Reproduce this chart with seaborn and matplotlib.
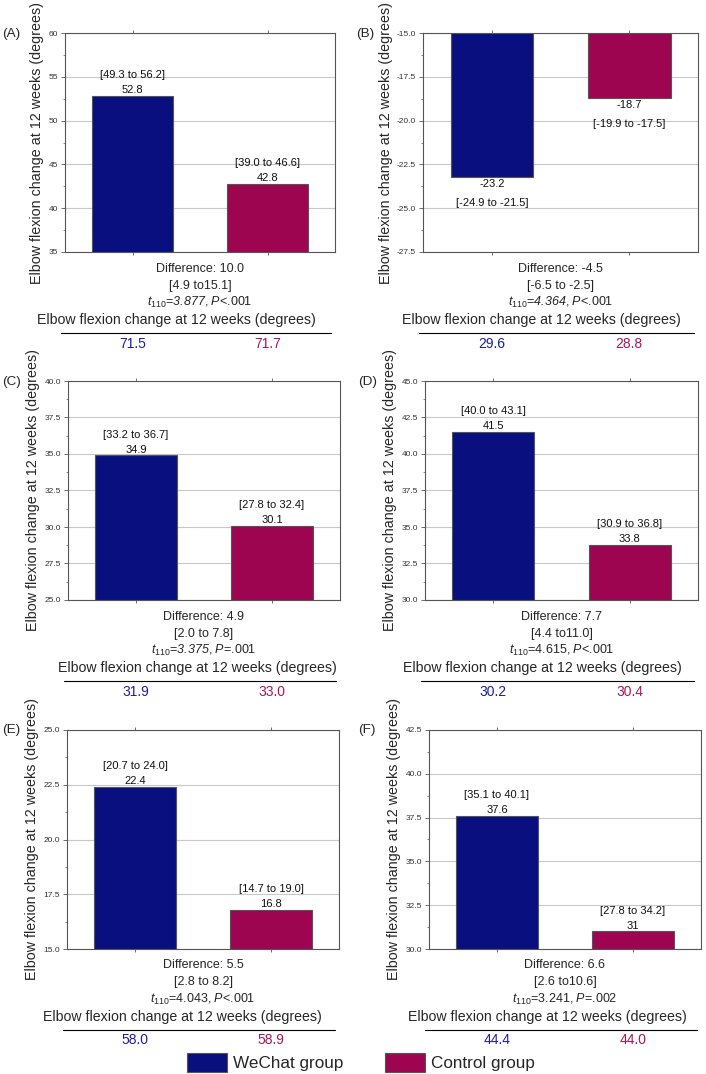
#!/usr/bin/env python3
"""Elbow flexion change at 12 weeks: WeChat group vs control group, six panels."""

import matplotlib
matplotlib.use("Agg")
import matplotlib.pyplot as plt
import matplotlib.transforms as mtransforms
from matplotlib.patches import Patch
from matplotlib.ticker import MultipleLocator, FormatStrFormatter
import seaborn as sns

# %% data
panel_tags = ["(A)", "(B)", "(C)", "(D)", "(E)", "(F)"]
groups = ["WeChat group", "Control group"]
wechat_means = [52.8, -23.2, 34.9, 41.5, 22.4, 37.6]
control_means = [42.8, -18.7, 30.1, 33.8, 16.8, 31.0]
wechat_mean_labels = ["52.8", "-23.2", "34.9", "41.5", "22.4", "37.6"]
control_mean_labels = ["42.8", "-18.7", "30.1", "33.8", "16.8", "31"]
wechat_ci = ["[49.3 to 56.2]", "[-24.9 to -21.5]", "[33.2 to 36.7]",
             "[40.0 to 43.1]", "[20.7 to 24.0]", "[35.1 to 40.1]"]
control_ci = ["[39.0 to 46.6]", "[-19.9 to -17.5]", "[27.8 to 32.4]",
              "[30.9 to 36.8]", "[14.7 to 19.0]", "[27.8 to 34.2]"]
diff_values = ["10.0", "-4.5", "4.9", "7.7", "5.5", "6.6"]
diff_ci = ["[4.9 to15.1]", "[-6.5 to -2.5]", "[2.0 to 7.8]",
           "[4.4 to11.0]", "[2.8 to 8.2]", "[2.6 to10.6]"]
t_values = ["3.877", "4.364", "3.375", "4.615", "4.043", "3.241"]
p_texts = ["<.001", "<.001", "=.001", "<.001", "<.001", "=.002"]
t_italic = [True, True, True, False, False, False]
wechat_bottom = [71.5, 29.6, 31.9, 30.2, 58.0, 44.4]
control_bottom = [71.7, 28.8, 33.0, 30.4, 58.9, 44.0]
y_limits = [(35, 60), (-27.5, -15), (25, 40), (30, 45), (15, 25), (30, 42.5)]
y_steps = [5, 2.5, 2.5, 2.5, 2.5, 2.5]
y_formats = ["%d", "%.1f", "%.1f", "%.1f", "%.1f", "%.1f"]

# %% layout (pixels on a 706x1074 canvas)
W, H = 706, 1074
axes_px = [(65, 335, 33, 252), (423, 698, 33, 252),
           (68, 340, 381, 600), (425, 698, 381, 600),
           (67, 339, 730, 949), (429, 701, 730, 949)]
tag_x_px = [2, 356, 2, 358, 2, 358]
label_shift_px = [-24, -19, -7, -19, -21, -18]

BLUE = "#0a0f7f"
RED = "#9e0551"
BLUE_TXT = "#1c1ca6"
RED_TXT = "#a8145c"
YLABEL = "Elbow flexion change at 12 weeks (degrees)"

sns.set_theme(style="white")
plt.rcParams["font.family"] = ["Liberation Sans", "DejaVu Sans"]
plt.rcParams["mathtext.fontset"] = "custom"
plt.rcParams["mathtext.rm"] = "Liberation Sans"
plt.rcParams["mathtext.it"] = "Liberation Sans:italic"
plt.rcParams["mathtext.bf"] = "Liberation Sans:bold"
# mathtext forces digits in \mathit upright, so use the sf slot for italic numbers
plt.rcParams["mathtext.sf"] = "Liberation Sans:italic"

fig = plt.figure(figsize=(W / 100, H / 100), dpi=100)


def below(ax, px, dx=0):
    # axes-fraction transform shifted down by px pixels
    return mtransforms.offset_copy(ax.transAxes, fig=fig, x=dx, y=-px, units="dots")


for i in range(6):
    x0, x1, y0, y1 = axes_px[i]
    ax = fig.add_axes([x0 / W, 1 - y1 / H, (x1 - x0) / W, (y1 - y0) / H])
    means = [wechat_means[i], control_means[i]]
    sns.barplot(x=groups, y=means, hue=groups, palette=[BLUE, RED], width=0.6,
                saturation=1, edgecolor="#555555", linewidth=0.8, legend=False,
                ax=ax, zorder=2)
    ax.set_ylim(*y_limits[i])
    ax.set_xlim(-0.5, 1.5)
    ax.yaxis.set_major_locator(MultipleLocator(y_steps[i]))
    ax.yaxis.set_minor_locator(MultipleLocator(y_steps[i] / 2))
    ax.yaxis.set_major_formatter(FormatStrFormatter(y_formats[i]))
    ax.set_axisbelow(True)
    ax.yaxis.grid(True, color="#c8c8c8", linewidth=0.8)
    ax.xaxis.grid(False)
    for sp in ax.spines.values():
        sp.set_color("#555555")
        sp.set_linewidth(0.8)
    ax.tick_params(axis="y", which="major", left=True, direction="out", length=3,
                   width=0.6, color="#555555", labelsize=6, labelcolor="#333333", pad=2)
    ax.tick_params(axis="y", which="minor", left=True, direction="out", length=1.5,
                   width=0.5, color="#555555")
    ax.tick_params(axis="x", bottom=True, top=True, direction="out", length=2.5,
                   width=0.6, color="#555555", labelbottom=False)
    ax.set_xlabel("")
    ax.set_ylabel(YLABEL, fontsize=10.3, labelpad=3)

    # mean and CI labels on the bars
    for xpos, val, lab, ci in [(0, wechat_means[i], wechat_mean_labels[i], wechat_ci[i]),
                               (1, control_means[i], control_mean_labels[i], control_ci[i])]:
        if val >= 0:
            off_val, off_ci = 4.2, 15
        else:
            off_val, off_ci = -5.5, -19
        ax.annotate(lab, (xpos, val), xytext=(0, off_val), textcoords="offset points",
                    ha="center", va="center", fontsize=8, color="#111111")
        ax.annotate(ci, (xpos, val), xytext=(0, off_ci), textcoords="offset points",
                    ha="center", va="center", fontsize=8, color="#111111")

    # statistics below the axes
    ax.text(0.5, 0, f"Difference: {diff_values[i]}", transform=below(ax, 16.5),
            ha="center", va="center", fontsize=9)
    ax.text(0.5, 0, diff_ci[i], transform=below(ax, 33.5),
            ha="center", va="center", fontsize=9)
    if t_italic[i]:
        stat = rf"$t_{{110}}$=$\mathsf{{{t_values[i]}}}$, $P${p_texts[i]}"
    else:
        stat = rf"$t_{{110}}$={t_values[i]}, $P${p_texts[i]}"
    ax.text(0.5, 0, stat, transform=below(ax, 50.5), ha="center", va="center", fontsize=9)
    ax.text(0.5, 0, YLABEL, transform=below(ax, 68, label_shift_px[i]),
            ha="center", va="center", fontsize=10.2)
    ax.plot([0, 1], [0, 0], transform=below(ax, 80.5, -4), color="black",
            linewidth=0.8, clip_on=False)
    xt = ax.get_xaxis_transform()
    ax.text(0, 0, f"{wechat_bottom[i]:.1f}",
            transform=mtransforms.offset_copy(xt, fig=fig, y=-91.5, units="dots"),
            ha="center", va="center", fontsize=10, color=BLUE_TXT)
    ax.text(1, 0, f"{control_bottom[i]:.1f}",
            transform=mtransforms.offset_copy(xt, fig=fig, y=-91.5, units="dots"),
            ha="center", va="center", fontsize=10, color=RED_TXT)

    fig.text(tag_x_px[i] / W, 1 - (y0 + 0.5) / H, panel_tags[i],
             ha="left", va="center", fontsize=9.7)

handles = [Patch(facecolor=BLUE, edgecolor="#555555", linewidth=0.8),
           Patch(facecolor=RED, edgecolor="#555555", linewidth=0.8)]
fig.legend(handles, groups, loc="upper left", bbox_to_anchor=(187 / W, 1 - 1053 / H),
           ncol=2, frameon=False, fontsize=12.3, handlelength=2.35, handleheight=1.3,
           handletextpad=0.35, columnspacing=2.4, borderpad=0, borderaxespad=0)

fig.savefig("out.png", dpi=100)
print("saved figure: out.png")
